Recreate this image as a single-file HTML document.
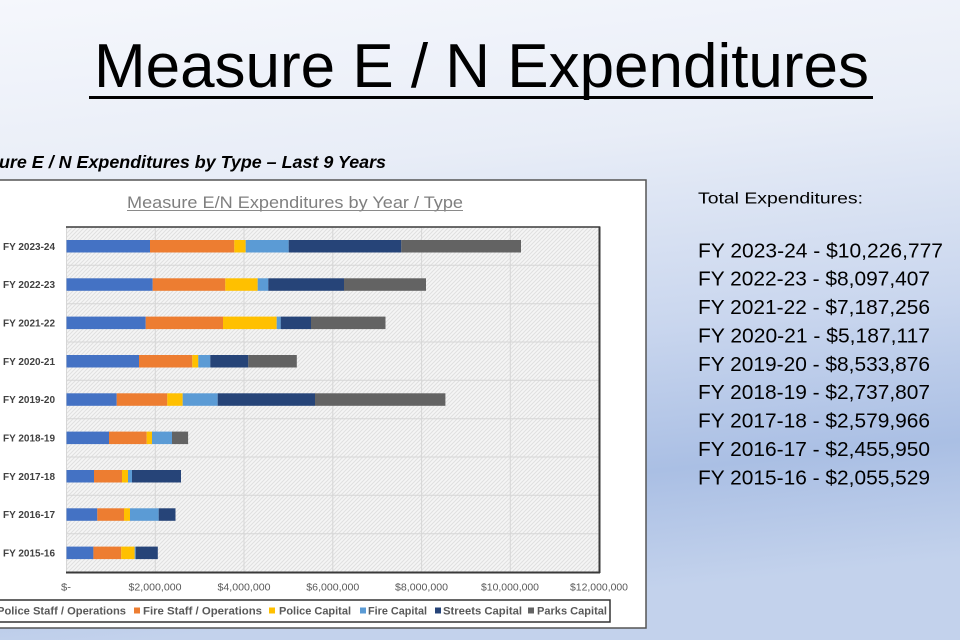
<!DOCTYPE html>
<html><head><meta charset="utf-8"><style>
html,body{margin:0;padding:0;width:960px;height:640px;overflow:hidden;}
svg{display:block;}
text{font-family:"Liberation Sans",sans-serif;}
</style></head><body>
<svg width="960" height="640" viewBox="0 0 960 640" xmlns="http://www.w3.org/2000/svg">
<defs>
<linearGradient id="bg" x1="0" y1="0" x2="0.15" y2="1">
<stop offset="0" stop-color="#f5f7fc"/>
<stop offset="0.3" stop-color="#e8edf7"/>
<stop offset="0.6" stop-color="#c9d6ee"/>
<stop offset="0.82" stop-color="#aabfe4"/>
<stop offset="1" stop-color="#c3d2ec"/>
</linearGradient>
<pattern id="hatch" width="4" height="4" patternUnits="userSpaceOnUse">
<rect width="4" height="4" fill="#f5f5f5"/>
<path d="M0,4 L4,0 M-1,1 L1,-1 M3,5 L5,3" stroke="#e0e0e0" stroke-width="1"/>
</pattern>
</defs>
<rect width="960" height="640" fill="url(#bg)"/>

<!-- Title -->
<text x="94" y="87" font-size="62" fill="#000" textLength="775" lengthAdjust="spacingAndGlyphs">Measure E / N Expenditures</text>
<rect x="89" y="96" width="784" height="3" fill="#000"/>

<!-- Subtitle -->
<text x="-1" y="168" font-size="17.5" font-weight="bold" font-style="italic" fill="#000" textLength="387" lengthAdjust="spacingAndGlyphs">ure E / N Expenditures by Type – Last 9 Years</text>

<!-- Chart outer box -->
<rect x="-10" y="180" width="656" height="448" fill="#fff" stroke="#555" stroke-width="1.5"/>

<!-- Chart title -->
<text x="127" y="208" font-size="17" fill="#7f7f7f" textLength="336" lengthAdjust="spacingAndGlyphs">Measure E/N Expenditures by Year / Type</text>
<rect x="127" y="210" width="336" height="1" fill="#8a8a8a"/>

<!-- Plot area -->
<rect x="66.5" y="227" width="532.5" height="345" fill="url(#hatch)"/>
<g stroke="#d6d6d6" stroke-width="1">
<line x1="155.3" y1="227" x2="155.3" y2="572"/>
<line x1="244" y1="227" x2="244" y2="572"/>
<line x1="332.8" y1="227" x2="332.8" y2="572"/>
<line x1="421.6" y1="227" x2="421.6" y2="572"/>
<line x1="510.3" y1="227" x2="510.3" y2="572"/>
<line x1="66.5" y1="265.3" x2="599" y2="265.3"/>
<line x1="66.5" y1="303.7" x2="599" y2="303.7"/>
<line x1="66.5" y1="342" x2="599" y2="342"/>
<line x1="66.5" y1="380.3" x2="599" y2="380.3"/>
<line x1="66.5" y1="418.7" x2="599" y2="418.7"/>
<line x1="66.5" y1="457" x2="599" y2="457"/>
<line x1="66.5" y1="495.3" x2="599" y2="495.3"/>
<line x1="66.5" y1="533.7" x2="599" y2="533.7"/>
<line x1="66.5" y1="227" x2="66.5" y2="572"/>
</g>
<g stroke="#3a3a3a" fill="none">
<line x1="66" y1="227" x2="600" y2="227" stroke-width="1.5"/>
<line x1="599.5" y1="226.5" x2="599.5" y2="573" stroke-width="2"/>
<line x1="66" y1="572.5" x2="600" y2="572.5" stroke-width="2"/>
</g>

<!-- Bars -->
<g>
<rect x="66.5" y="240" width="83.5" height="12.5" fill="#4472C4"/>
<rect x="150" y="240" width="84.3" height="12.5" fill="#ED7D31"/>
<rect x="234.3" y="240" width="11.4" height="12.5" fill="#FFC000"/>
<rect x="245.7" y="240" width="43" height="12.5" fill="#5B9BD5"/>
<rect x="288.7" y="240" width="112.6" height="12.5" fill="#264478"/>
<rect x="401.3" y="240" width="119.7" height="12.5" fill="#636363"/>

<rect x="66.5" y="278.3" width="86.2" height="12.5" fill="#4472C4"/>
<rect x="152.7" y="278.3" width="72.6" height="12.5" fill="#ED7D31"/>
<rect x="225.3" y="278.3" width="32.4" height="12.5" fill="#FFC000"/>
<rect x="257.7" y="278.3" width="10.6" height="12.5" fill="#5B9BD5"/>
<rect x="268.3" y="278.3" width="75.7" height="12.5" fill="#264478"/>
<rect x="344" y="278.3" width="82" height="12.5" fill="#636363"/>

<rect x="66.5" y="316.6" width="79.2" height="12.5" fill="#4472C4"/>
<rect x="145.7" y="316.6" width="77.3" height="12.5" fill="#ED7D31"/>
<rect x="223" y="316.6" width="53.7" height="12.5" fill="#FFC000"/>
<rect x="276.7" y="316.6" width="4" height="12.5" fill="#5B9BD5"/>
<rect x="280.7" y="316.6" width="30.3" height="12.5" fill="#264478"/>
<rect x="311" y="316.6" width="74.5" height="12.5" fill="#636363"/>

<rect x="66.5" y="355" width="72.5" height="12.5" fill="#4472C4"/>
<rect x="139" y="355" width="53.3" height="12.5" fill="#ED7D31"/>
<rect x="192.3" y="355" width="6" height="12.5" fill="#FFC000"/>
<rect x="198.3" y="355" width="12" height="12.5" fill="#5B9BD5"/>
<rect x="210.3" y="355" width="38" height="12.5" fill="#264478"/>
<rect x="248.3" y="355" width="48.5" height="12.5" fill="#636363"/>

<rect x="66.5" y="393.3" width="50.2" height="12.5" fill="#4472C4"/>
<rect x="116.7" y="393.3" width="50.6" height="12.5" fill="#ED7D31"/>
<rect x="167.3" y="393.3" width="15.4" height="12.5" fill="#FFC000"/>
<rect x="182.7" y="393.3" width="35" height="12.5" fill="#5B9BD5"/>
<rect x="217.7" y="393.3" width="97.3" height="12.5" fill="#264478"/>
<rect x="315" y="393.3" width="130.4" height="12.5" fill="#636363"/>

<rect x="66.5" y="431.6" width="42.5" height="12.5" fill="#4472C4"/>
<rect x="109" y="431.6" width="37.7" height="12.5" fill="#ED7D31"/>
<rect x="146.7" y="431.6" width="5.3" height="12.5" fill="#FFC000"/>
<rect x="152" y="431.6" width="20" height="12.5" fill="#5B9BD5"/>
<rect x="172" y="431.6" width="16.1" height="12.5" fill="#636363"/>

<rect x="66.5" y="470" width="27.5" height="12.5" fill="#4472C4"/>
<rect x="94" y="470" width="28" height="12.5" fill="#ED7D31"/>
<rect x="122" y="470" width="6" height="12.5" fill="#FFC000"/>
<rect x="128" y="470" width="4" height="12.5" fill="#5B9BD5"/>
<rect x="132" y="470" width="49" height="12.5" fill="#264478"/>

<rect x="66.5" y="508.3" width="30.8" height="12.5" fill="#4472C4"/>
<rect x="97.3" y="508.3" width="26.7" height="12.5" fill="#ED7D31"/>
<rect x="124" y="508.3" width="6" height="12.5" fill="#FFC000"/>
<rect x="130" y="508.3" width="28.7" height="12.5" fill="#5B9BD5"/>
<rect x="158.7" y="508.3" width="16.8" height="12.5" fill="#264478"/>

<rect x="66.5" y="546.6" width="26.9" height="12.5" fill="#4472C4"/>
<rect x="93.4" y="546.6" width="27.8" height="12.5" fill="#ED7D31"/>
<rect x="121.2" y="546.6" width="13.5" height="12.5" fill="#FFC000"/>
<rect x="134.7" y="546.6" width="1" height="12.5" fill="#5B9BD5"/>
<rect x="135.7" y="546.6" width="22.1" height="12.5" fill="#264478"/>
</g>

<!-- Category labels -->
<g font-size="10" font-weight="bold" fill="#404040">
<text x="3" y="249.8" textLength="52" lengthAdjust="spacingAndGlyphs">FY 2023-24</text>
<text x="3" y="288.1" textLength="52" lengthAdjust="spacingAndGlyphs">FY 2022-23</text>
<text x="3" y="326.4" textLength="52" lengthAdjust="spacingAndGlyphs">FY 2021-22</text>
<text x="3" y="364.8" textLength="52" lengthAdjust="spacingAndGlyphs">FY 2020-21</text>
<text x="3" y="403.1" textLength="52" lengthAdjust="spacingAndGlyphs">FY 2019-20</text>
<text x="3" y="441.4" textLength="52" lengthAdjust="spacingAndGlyphs">FY 2018-19</text>
<text x="3" y="479.8" textLength="52" lengthAdjust="spacingAndGlyphs">FY 2017-18</text>
<text x="3" y="518.1" textLength="52" lengthAdjust="spacingAndGlyphs">FY 2016-17</text>
<text x="3" y="556.4" textLength="52" lengthAdjust="spacingAndGlyphs">FY 2015-16</text>
</g>

<!-- X tick labels -->
<g font-size="10.5" fill="#595959">
<text x="61" y="590.5" textLength="10" lengthAdjust="spacingAndGlyphs">$-</text>
<text x="128.5" y="590.5" textLength="53" lengthAdjust="spacingAndGlyphs">$2,000,000</text>
<text x="217.5" y="590.5" textLength="53" lengthAdjust="spacingAndGlyphs">$4,000,000</text>
<text x="306.3" y="590.5" textLength="53" lengthAdjust="spacingAndGlyphs">$6,000,000</text>
<text x="395" y="590.5" textLength="53" lengthAdjust="spacingAndGlyphs">$8,000,000</text>
<text x="481" y="590.5" textLength="58" lengthAdjust="spacingAndGlyphs">$10,000,000</text>
<text x="570" y="590.5" textLength="58" lengthAdjust="spacingAndGlyphs">$12,000,000</text>
</g>

<!-- Legend -->
<rect x="-10" y="600" width="620" height="22" fill="#fff" stroke="#333" stroke-width="1.5"/>
<g font-size="11" font-weight="bold" fill="#595959">
<rect x="-9" y="607.5" width="6" height="6" fill="#4472C4"/>
<text x="-3" y="614.5" textLength="129" lengthAdjust="spacingAndGlyphs">Police Staff / Operations</text>
<rect x="134" y="607.5" width="6" height="6" fill="#ED7D31"/>
<text x="143" y="614.5" textLength="119" lengthAdjust="spacingAndGlyphs">Fire Staff / Operations</text>
<rect x="269" y="607.5" width="6" height="6" fill="#FFC000"/>
<text x="279" y="614.5" textLength="72" lengthAdjust="spacingAndGlyphs">Police Capital</text>
<rect x="360" y="607.5" width="6" height="6" fill="#5B9BD5"/>
<text x="368" y="614.5" textLength="59" lengthAdjust="spacingAndGlyphs">Fire Capital</text>
<rect x="435" y="607.5" width="6" height="6" fill="#264478"/>
<text x="443" y="614.5" textLength="79" lengthAdjust="spacingAndGlyphs">Streets Capital</text>
<rect x="528" y="607.5" width="6" height="6" fill="#636363"/>
<text x="537" y="614.5" textLength="70" lengthAdjust="spacingAndGlyphs">Parks Capital</text>
</g>

<!-- Right side totals -->
<text x="698" y="203.3" font-size="15.5" fill="#000" textLength="165" lengthAdjust="spacingAndGlyphs">Total Expenditures:</text>
<g font-size="20" fill="#000">
<text x="698" y="257.3" textLength="245" lengthAdjust="spacingAndGlyphs">FY 2023-24 - $10,226,777</text>
<text x="698" y="285.7" textLength="232" lengthAdjust="spacingAndGlyphs">FY 2022-23 - $8,097,407</text>
<text x="698" y="314" textLength="232" lengthAdjust="spacingAndGlyphs">FY 2021-22 - $7,187,256</text>
<text x="698" y="342.4" textLength="232" lengthAdjust="spacingAndGlyphs">FY 2020-21 - $5,187,117</text>
<text x="698" y="370.8" textLength="232" lengthAdjust="spacingAndGlyphs">FY 2019-20 - $8,533,876</text>
<text x="698" y="399.2" textLength="232" lengthAdjust="spacingAndGlyphs">FY 2018-19 - $2,737,807</text>
<text x="698" y="427.6" textLength="232" lengthAdjust="spacingAndGlyphs">FY 2017-18 - $2,579,966</text>
<text x="698" y="456" textLength="232" lengthAdjust="spacingAndGlyphs">FY 2016-17 - $2,455,950</text>
<text x="698" y="484.4" textLength="232" lengthAdjust="spacingAndGlyphs">FY 2015-16 - $2,055,529</text>
</g>
</svg>
</body></html>
